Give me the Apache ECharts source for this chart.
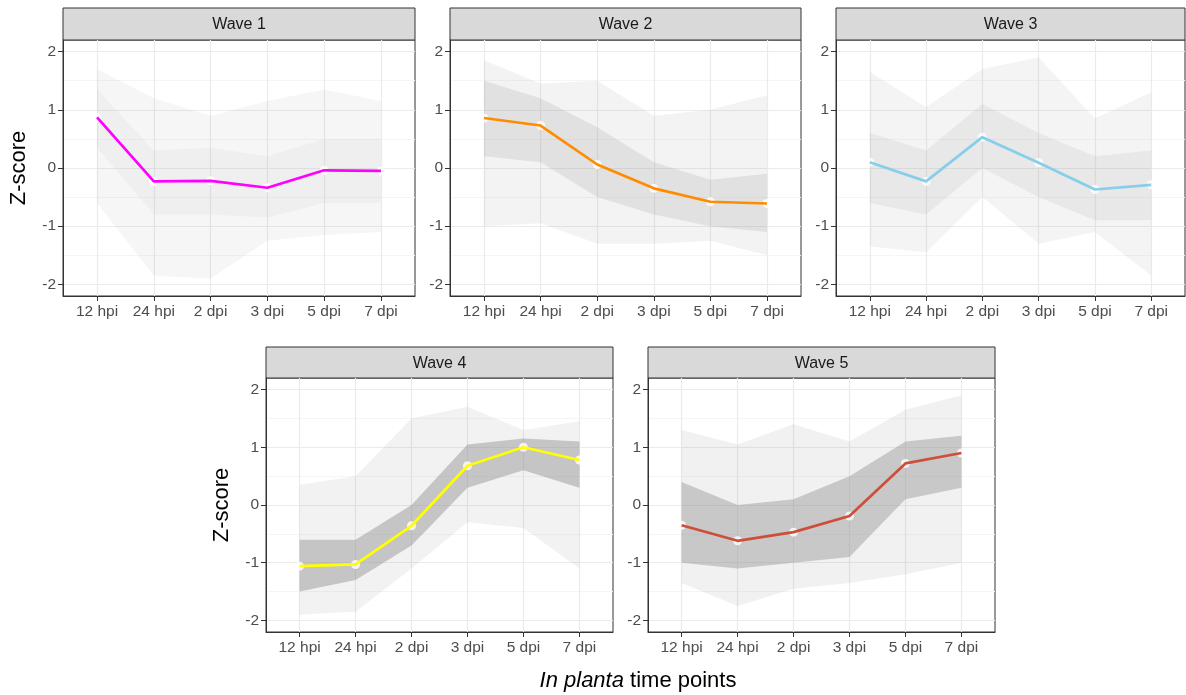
<!DOCTYPE html>
<html>
<head>
<meta charset="utf-8">
<script src="https://cdn.jsdelivr.net/npm/echarts@6/dist/echarts.min.js"></script>
<style>
html, body { margin: 0; padding: 0; background: #fff; }
#main { width: 1186px; height: 695px; }
</style>
</head>
<body>
<div id="main"></div>
<script>
// time points (x categories)
var timePoints = ['12 hpi', '24 hpi', '2 dpi', '3 dpi', '5 dpi', '7 dpi'];
var waveNames = ['Wave 1', 'Wave 2', 'Wave 3', 'Wave 4', 'Wave 5'];
var waveColors = ['#FF00FF', '#FF8C00', '#87CEEB', '#FFFF00', '#CD4F39'];

// mean z-score per wave
var wave1Mean = [0.87, -0.23, -0.22, -0.34, -0.04, -0.05];
var wave2Mean = [0.86, 0.73, 0.06, -0.35, -0.58, -0.61];
var wave3Mean = [0.10, -0.23, 0.53, 0.09, -0.37, -0.29];
var wave4Mean = [-1.06, -1.03, -0.36, 0.68, 1.00, 0.78];
var wave5Mean = [-0.35, -0.62, -0.47, -0.19, 0.72, 0.90];

// spread of the individual gene profiles (outer = faint extremes, inner = dense core)
var wave1OuterLow = [-0.6, -1.85, -1.9, -1.25, -1.15, -1.1];
var wave1OuterHigh = [1.7, 1.2, 0.9, 1.15, 1.35, 1.15];
var wave1InnerLow = [0.35, -0.8, -0.8, -0.85, -0.6, -0.6];
var wave1InnerHigh = [1.35, 0.3, 0.35, 0.2, 0.5, 0.5];

var wave2OuterLow = [-1.0, -0.95, -1.3, -1.3, -1.25, -1.5];
var wave2OuterHigh = [1.85, 1.45, 1.5, 0.9, 1.0, 1.25];
var wave2InnerLow = [0.2, 0.1, -0.5, -0.8, -1.0, -1.1];
var wave2InnerHigh = [1.5, 1.2, 0.7, 0.1, -0.2, -0.1];

var wave3OuterLow = [-1.35, -1.45, -0.5, -1.3, -1.1, -1.85];
var wave3OuterHigh = [1.65, 1.05, 1.7, 1.9, 0.85, 1.3];
var wave3InnerLow = [-0.6, -0.8, 0.0, -0.5, -0.9, -0.9];
var wave3InnerHigh = [0.6, 0.3, 1.1, 0.6, 0.2, 0.3];

var wave4OuterLow = [-1.9, -1.85, -1.1, -0.3, -0.4, -1.1];
var wave4OuterHigh = [0.35, 0.5, 1.5, 1.7, 1.3, 1.45];
var wave4InnerLow = [-1.5, -1.3, -0.7, 0.3, 0.6, 0.3];
var wave4InnerHigh = [-0.6, -0.6, 0.0, 1.05, 1.15, 1.1];

var wave5OuterLow = [-1.35, -1.75, -1.45, -1.35, -1.2, -1.0];
var wave5OuterHigh = [1.3, 1.05, 1.4, 1.1, 1.65, 1.9];
var wave5InnerLow = [-1.0, -1.1, -1.0, -0.9, 0.1, 0.3];
var wave5InnerHigh = [0.4, 0.0, 0.1, 0.5, 1.1, 1.2];

var yTicks = [-2, -1, 0, 1, 2];
var xTicks = [0, 1, 2, 3, 4, 5];

var means = [wave1Mean, wave2Mean, wave3Mean, wave4Mean, wave5Mean];
var outerLow = [wave1OuterLow, wave2OuterLow, wave3OuterLow, wave4OuterLow, wave5OuterLow];
var outerHigh = [wave1OuterHigh, wave2OuterHigh, wave3OuterHigh, wave4OuterHigh, wave5OuterHigh];
var innerLow = [wave1InnerLow, wave2InnerLow, wave3InnerLow, wave4InnerLow, wave5InnerLow];
var innerHigh = [wave1InnerHigh, wave2InnerHigh, wave3InnerHigh, wave4InnerHigh, wave5InnerHigh];

// layout of the facets
var panels = [
  { left: 63, top: 40, width: 352, height: 256, stripTop: 8 },
  { left: 450, top: 40, width: 351, height: 256, stripTop: 8 },
  { left: 836, top: 40, width: 349, height: 256, stripTop: 8 },
  { left: 266, top: 378, width: 347, height: 254, stripTop: 347 },
  { left: 648, top: 378, width: 347, height: 254, stripTop: 347 }
];
var outerFill = ['rgba(150,150,150,0.09)', 'rgba(150,150,150,0.11)', 'rgba(150,150,150,0.10)', 'rgba(150,150,150,0.12)', 'rgba(150,150,150,0.13)'];
var innerFill = ['rgba(150,150,150,0.07)', 'rgba(150,150,150,0.19)', 'rgba(150,150,150,0.12)', 'rgba(140,140,140,0.44)', 'rgba(140,140,140,0.40)'];

var FONT = 'Liberation Sans, Arial, sans-serif';

function bandSeries(i, lo, hi, fill) {
  return {
    type: 'custom',
    xAxisIndex: i,
    yAxisIndex: i,
    silent: true,
    z: 1,
    data: [[0, 0]],
    renderItem: function (params, api) {
      var pts = [];
      for (var k = 0; k < hi.length; k++) pts.push(api.coord([k, hi[k]]));
      for (var k = lo.length - 1; k >= 0; k--) pts.push(api.coord([k, lo[k]]));
      return { type: 'polygon', shape: { points: pts }, style: { fill: fill } };
    }
  };
}

var grids = [], xAxes = [], yAxes = [], series = [], graphics = [];

panels.forEach(function (p, i) {
  grids.push({
    left: p.left, top: p.top, width: p.width, height: p.height,
    show: true, borderColor: '#333', borderWidth: 1, backgroundColor: '#fff'
  });
  xAxes.push({
    gridIndex: i, type: 'value', min: -0.6, max: 5.6,
    axisLine: { show: true, onZero: false, lineStyle: { color: '#333', width: 1 } },
    axisTick: { show: true, customValues: xTicks, length: 5, lineStyle: { color: '#333' } },
    axisLabel: {
      customValues: xTicks, margin: 8, color: '#4D4D4D', fontSize: 15.5, fontFamily: FONT,
      formatter: function (v) { return timePoints[Math.round(v)] || ''; }
    },
    splitLine: { show: true, lineStyle: { color: '#EBEBEB', width: 1.2 } }
  });
  yAxes.push({
    gridIndex: i, type: 'value', min: -2.2, max: 2.2,
    name: i === 0 || i === 3 ? 'Z-score' : '',
    nameLocation: 'middle', nameGap: 33,
    nameTextStyle: { color: '#000', fontSize: 22, fontFamily: FONT },
    axisLine: { show: true, onZero: false, lineStyle: { color: '#333', width: 1 } },
    axisTick: { show: true, customValues: yTicks, length: 5, lineStyle: { color: '#333' } },
    axisLabel: {
      customValues: yTicks, margin: 7, color: '#4D4D4D', fontSize: 15.5, fontFamily: FONT,
      formatter: function (v) { return String(v); }
    },
    splitLine: { show: true, lineStyle: { color: '#EBEBEB', width: 1.2 } },
    minorTick: { show: false, splitNumber: 2 },
    minorSplitLine: { show: true, lineStyle: { color: '#F5F5F5', width: 1 } }
  });

  series.push(bandSeries(i, outerLow[i], outerHigh[i], outerFill[i]));
  series.push(bandSeries(i, innerLow[i], innerHigh[i], innerFill[i]));

  var pts = means[i].map(function (v, k) { return [k, v]; });
  series.push({
    type: 'scatter', xAxisIndex: i, yAxisIndex: i, z: 3, silent: true,
    symbol: 'circle', symbolSize: 9,
    itemStyle: { color: '#fff' },
    data: pts
  });
  series.push({
    type: 'line', xAxisIndex: i, yAxisIndex: i, z: 4, silent: true,
    symbol: 'none',
    lineStyle: { color: waveColors[i], width: 2.7 },
    data: pts
  });

  // facet strip
  graphics.push({
    type: 'rect', silent: true,
    shape: { x: p.left, y: p.stripTop, width: p.width, height: p.top - p.stripTop },
    style: { fill: '#D9D9D9', stroke: '#333', lineWidth: 1 }
  });
  graphics.push({
    type: 'text', silent: true,
    x: p.left + p.width / 2, y: (p.stripTop + p.top) / 2 + 1,
    style: { text: waveNames[i], fill: '#1A1A1A', font: '16px ' + FONT, align: 'center', verticalAlign: 'middle' }
  });
});

graphics.push({
  type: 'text', silent: true,
  x: 638, y: 681,
  style: {
    text: '{i|In planta} time points',
    align: 'center', verticalAlign: 'middle',
    fill: '#000', font: '22px ' + FONT,
    rich: { i: { fontStyle: 'italic', fontSize: 22, fontFamily: FONT, fill: '#000' } }
  }
});

var myChart = echarts.init(document.getElementById('main'), null, { renderer: 'canvas' });
myChart.setOption({
  animation: false,
  backgroundColor: '#fff',
  grid: grids,
  xAxis: xAxes,
  yAxis: yAxes,
  series: series,
  graphic: graphics
});
</script>
</body>
</html>
